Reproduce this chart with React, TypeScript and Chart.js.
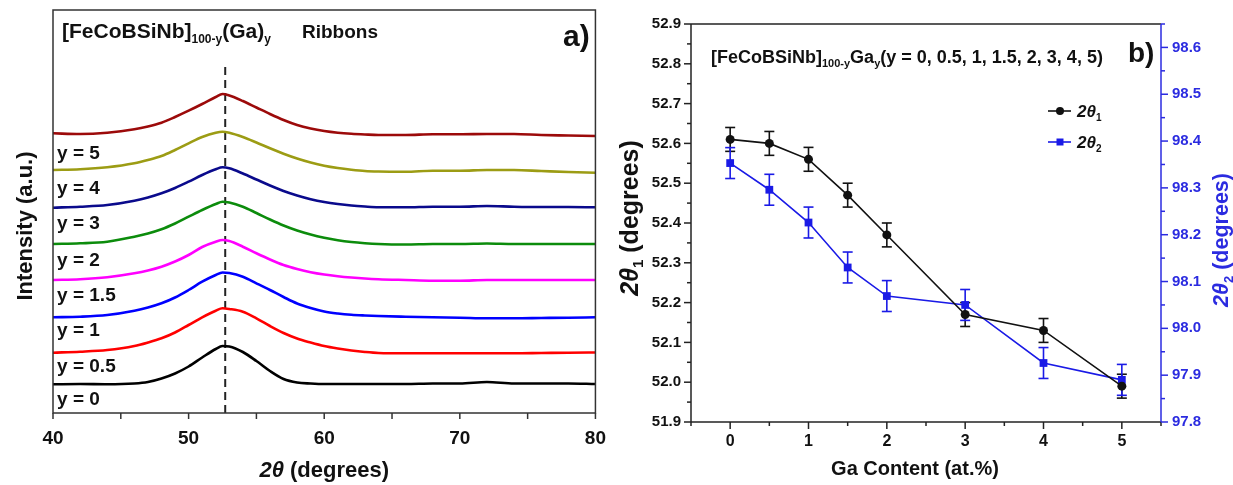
import React, { useEffect, useRef } from 'react';
import { Chart, registerables } from 'chart.js';
Chart.register(...registerables);

const FAM = "'Liberation Sans', Arial, Helvetica, sans-serif";

// ---------- Panel a) XRD patterns ----------
const twoTheta = [40, 42, 44, 46, 47, 48, 49, 50, 51, 52, 52.5, 53, 54, 55, 56, 57, 58, 59, 60, 61, 62, 63, 64, 66, 68, 70, 72, 74, 76, 78, 80];
const intY0 = [28.7, 29, 28.7, 29.5, 31, 34.5, 39.5, 46.5, 55.5, 64, 67, 66.5, 61, 52, 42, 34, 30.5, 29.5, 29, 29, 29, 29, 29, 29, 29.5, 29.5, 31, 29.5, 29.5, 29.5, 29];
const intY05 = [60.3, 61.3, 63, 67, 70.5, 74.7, 80.5, 88, 95.7, 102.3, 104.7, 104, 101.3, 94.7, 87, 80, 74.5, 70.5, 67, 64.5, 62.5, 61, 60, 59.7, 59.7, 59.7, 59.7, 59.7, 60, 60.3, 60.5];
const intY1 = [95.7, 96.3, 98, 102.3, 105.5, 109.7, 115.5, 123, 131.3, 138, 140.5, 140, 136.3, 129.7, 123, 116, 109.5, 105, 101.5, 99.5, 98.2, 97.5, 97, 96.3, 95.7, 95.3, 94.7, 94.7, 95, 95.3, 95.7];
const intY15 = [133, 133.7, 135.7, 139.7, 142.5, 146.3, 151.5, 158, 166, 171.3, 173, 172, 166.3, 159.7, 153.5, 148, 144, 140.8, 138.5, 136.8, 135.5, 134.5, 133.8, 133, 132.3, 132.3, 133, 133, 133, 133, 133];
const intY2 = [169, 169.7, 171.3, 176.3, 179.5, 183.7, 189.5, 196.3, 203, 209, 211.3, 210.5, 206.3, 200, 193.5, 187.5, 182.5, 178.5, 175.3, 172.8, 171, 169.8, 169, 168.5, 169, 169, 169.5, 169, 169, 169, 169];
const intY3 = [205.3, 206.3, 208, 212.3, 215.5, 219.7, 225, 231.3, 238, 243.7, 245.7, 244.7, 239.5, 233.5, 227.5, 222, 217.5, 213.8, 211, 209, 207.5, 206.5, 205.8, 205.7, 206.3, 206.3, 207, 206.3, 206, 206, 205.7];
const intY4 = [243, 243.7, 245.7, 249.7, 253, 257, 263, 269.7, 276, 280.3, 281.3, 280.3, 276, 270.5, 264.7, 259.3, 254.5, 250.5, 247.3, 245, 243.3, 242, 241.5, 241.3, 242.3, 242.3, 243, 243, 242, 241, 240.3];
const intY5 = [279.7, 279, 280.3, 283.7, 286.5, 290.3, 296, 302.3, 309, 316, 319, 317.5, 312, 305.5, 299, 293, 288, 284.5, 282, 280.3, 279.2, 278.5, 278, 278, 278.7, 278.7, 279, 279, 278, 277.5, 277];
const curves = [intY0, intY05, intY1, intY15, intY2, intY3, intY4, intY5];
const curveColors = ['#000000', '#ff0000', '#0000ff', '#ff00ff', '#0c8c0c', '#0a0a8c', '#9c9c14', '#9c0a0a'];
const compLabels = ['y = 0', 'y = 0.5', 'y = 1', 'y = 1.5', 'y = 2', 'y = 3', 'y = 4', 'y = 5'];
const compLabelLevels = [8, 41, 77, 112, 147, 184, 219, 254];
const refPeak = 52.7;
const refLineTop = 346;
const xTicksA = [40, 50, 60, 70, 80];

// ---------- Panel b) peak positions ----------
const gaContent = [0, 0.5, 1, 1.5, 2, 3, 4, 5];
const theta1 = [52.61, 52.60, 52.56, 52.47, 52.37, 52.17, 52.13, 51.99];
const theta1Err = [0.03, 0.03, 0.03, 0.03, 0.03, 0.03, 0.03, 0.03];
const theta2 = [98.353, 98.296, 98.226, 98.13, 98.069, 98.05, 97.926, 97.89];
const theta2Err = [0.033, 0.033, 0.033, 0.033, 0.033, 0.033, 0.033, 0.033];
const xTicksB = [0, 1, 2, 3, 4, 5];
const yTicksB1 = [51.9, 52.0, 52.1, 52.2, 52.3, 52.4, 52.5, 52.6, 52.7, 52.8, 52.9];
const yTicksB2 = [97.8, 97.9, 98.0, 98.1, 98.2, 98.3, 98.4, 98.5, 98.6];

const BLUE = '#1a1ae6';
const AXBLUE = '#2b2be0';

type Seg = { t: string; s: number; it?: boolean; dy?: number; nb?: boolean };
const fontOf = (sg: Seg) => `${sg.it ? 'italic ' : ''}${sg.nb ? '' : 'bold '}${sg.s}px ${FAM}`;

function drawRich(ctx: CanvasRenderingContext2D, segs: Seg[], x: number, y: number, align: string, color: string, rot = 0) {
  ctx.save();
  ctx.translate(x, y);
  if (rot) ctx.rotate(rot);
  ctx.fillStyle = color;
  ctx.textAlign = 'left';
  ctx.textBaseline = 'alphabetic';
  let w = 0;
  const ws = segs.map((sg) => {
    ctx.font = fontOf(sg);
    const m = ctx.measureText(sg.t).width;
    w += m;
    return m;
  });
  let cx = align === 'center' ? -w / 2 : align === 'right' ? -w : 0;
  segs.forEach((sg, i) => {
    ctx.font = fontOf(sg);
    ctx.fillText(sg.t, cx, sg.dy || 0);
    cx += ws[i];
  });
  ctx.restore();
}

function line(ctx: CanvasRenderingContext2D, x1: number, y1: number, x2: number, y2: number) {
  ctx.beginPath();
  ctx.moveTo(x1, y1);
  ctx.lineTo(x2, y2);
  ctx.stroke();
}

const leftPlugin = {
  id: 'leftDeco',
  afterDraw(chart: any) {
    const ctx: CanvasRenderingContext2D = chart.ctx;
    const { left, right, top, bottom } = chart.chartArea;
    const xs = chart.scales.x;
    const ys = chart.scales.y;
    ctx.save();
    ctx.strokeStyle = '#333';
    ctx.lineWidth = 1.5;
    ctx.strokeRect(left, top, right - left, bottom - top);
    for (let v = 40; v <= 80; v += 5) {
      const px = xs.getPixelForValue(v);
      line(ctx, px, bottom, px, bottom + 6);
    }
    compLabels.forEach((t, i) => {
      drawRich(ctx, [{ t, s: 19 }], xs.getPixelForValue(40.3), ys.getPixelForValue(compLabelLevels[i]), 'left', '#111');
    });
    drawRich(ctx, [
      { t: '[FeCoBSiNb]', s: 21 },
      { t: '100-y', s: 12, dy: 5 },
      { t: '(Ga)', s: 21 },
      { t: 'y', s: 12, dy: 5 },
    ], 62, 38, 'left', '#111');
    drawRich(ctx, [{ t: 'Ribbons', s: 19 }], 302, 38, 'left', '#111');
    drawRich(ctx, [{ t: 'a)', s: 30 }], 563, 46, 'left', '#111');
    drawRich(ctx, [{ t: '2θ', s: 22, it: true }, { t: ' (degrees)', s: 22 }], (left + right) / 2, 477, 'center', '#111');
    drawRich(ctx, [{ t: 'Intensity (a.u.)', s: 22 }], 24 + 0.36 * 22, 226, 'center', '#111', -Math.PI / 2);
    ctx.restore();
  },
};

const rightPlugin = {
  id: 'rightDeco',
  beforeDatasetsDraw(chart: any) {
    const ctx: CanvasRenderingContext2D = chart.ctx;
    const xs = chart.scales.x;
    const sets = [
      { ys: chart.scales.y, vals: theta1, errs: theta1Err, color: '#111' },
      { ys: chart.scales.y2, vals: theta2, errs: theta2Err, color: BLUE },
    ];
    ctx.save();
    ctx.lineWidth = 1.6;
    sets.forEach((s) => {
      ctx.strokeStyle = s.color;
      gaContent.forEach((g, j) => {
        const px = xs.getPixelForValue(g);
        const yt = s.ys.getPixelForValue(s.vals[j] + s.errs[j]);
        const yb = s.ys.getPixelForValue(s.vals[j] - s.errs[j]);
        line(ctx, px, yt, px, yb);
        line(ctx, px - 5, yt, px + 5, yt);
        line(ctx, px - 5, yb, px + 5, yb);
      });
    });
    ctx.restore();
  },
  afterDraw(chart: any) {
    const ctx: CanvasRenderingContext2D = chart.ctx;
    const { left, right, top, bottom } = chart.chartArea;
    const xs = chart.scales.x;
    const yl = chart.scales.y;
    const yr = chart.scales.y2;
    ctx.save();
    ctx.lineWidth = 1.5;
    ctx.strokeStyle = '#222';
    for (let i = 0; i <= 12; i++) {
      const v = -0.5 + i * 0.5;
      const px = xs.getPixelForValue(v);
      const major = Math.abs(v - Math.round(v)) < 1e-6;
      line(ctx, px, bottom, px, bottom + (major ? 7 : 4));
    }
    for (let i = 0; i <= 20; i++) {
      const py = yl.getPixelForValue(51.9 + i * 0.05);
      line(ctx, left, py, left - (i % 2 === 0 ? 7 : 4), py);
    }
    line(ctx, left, top, left, bottom);
    line(ctx, left, bottom, right, bottom);
    line(ctx, left, top, right, top);
    ctx.strokeStyle = AXBLUE;
    for (let i = 0; i <= 17; i++) {
      const py = yr.getPixelForValue(97.8 + i * 0.05);
      line(ctx, right, py, right + (i % 2 === 0 ? 7 : 4), py);
    }
    line(ctx, right, top, right, bottom);

    drawRich(ctx, [
      { t: '[FeCoBSiNb]', s: 18 },
      { t: '100-y', s: 11, dy: 4 },
      { t: 'Ga', s: 18 },
      { t: 'y', s: 11, dy: 4 },
      { t: '(y = 0, 0.5, 1, 1.5, 2, 3, 4, 5)', s: 18 },
    ], 111, 63, 'left', '#111');
    drawRich(ctx, [{ t: 'b)', s: 28 }], 528, 62, 'left', '#111');

    // legend
    const rows = [
      { y: 111, color: '#111', sub: '1', shape: 'circle' },
      { y: 142, color: BLUE, sub: '2', shape: 'rect' },
    ];
    rows.forEach((r) => {
      ctx.strokeStyle = r.color;
      ctx.fillStyle = r.color;
      ctx.lineWidth = 1.6;
      line(ctx, 448, r.y, 471, r.y);
      ctx.beginPath();
      if (r.shape === 'circle') ctx.arc(460, r.y, 4, 0, Math.PI * 2);
      else ctx.rect(456.5, r.y - 3.5, 7, 7);
      ctx.fill();
      drawRich(ctx, [{ t: '2θ', s: 17, it: true }, { t: r.sub, s: 10, dy: 4 }], 477, r.y + 6, 'left', '#111');
    });

    drawRich(ctx, [{ t: 'Ga Content (at.%)', s: 20 }], 315, 475, 'center', '#111');
    drawRich(ctx, [{ t: '2θ', s: 25, it: true }, { t: '1', s: 15, dy: 5 }, { t: ' (degrees)', s: 25 }], 29 + 0.36 * 25, 218, 'center', '#111', -Math.PI / 2);
    drawRich(ctx, [{ t: '2θ', s: 21.5, it: true }, { t: '2', s: 13, dy: 5 }, { t: ' (degrees)', s: 21.5 }], 620 + 0.36 * 21.5, 240, 'center', AXBLUE, -Math.PI / 2);
    ctx.restore();
  },
};

export default function App() {
  const leftRef = useRef<HTMLCanvasElement>(null);
  const rightRef = useRef<HTMLCanvasElement>(null);

  useEffect(() => {
    Chart.defaults.font.family = FAM;
    const leftSets: any[] = curves.map((c, i) => ({
      data: twoTheta.map((x, j) => ({ x, y: c[j] })),
      borderColor: curveColors[i],
      borderWidth: 2.6,
      pointRadius: 0,
      cubicInterpolationMode: 'monotone',
      fill: false,
    }));
    leftSets.push({
      data: [{ x: refPeak, y: 0 }, { x: refPeak, y: refLineTop }],
      borderColor: '#222',
      borderWidth: 2,
      borderDash: [8, 5],
      pointRadius: 0,
      fill: false,
    });
    const left = new Chart(leftRef.current as HTMLCanvasElement, {
      type: 'line',
      data: { datasets: leftSets },
      options: {
        animation: false,
        responsive: false,
        devicePixelRatio: 1,
        layout: { padding: { left: 0, right: 21, top: 10, bottom: 0 } },
        plugins: { legend: { display: false }, tooltip: { enabled: false } },
        scales: {
          x: {
            type: 'linear', min: 40, max: 80,
            grid: { display: false, drawTicks: false }, border: { display: false },
            afterBuildTicks: (s: any) => { s.ticks = xTicksA.map((v) => ({ value: v })); },
            ticks: { padding: 14, color: '#111', font: { size: 19, weight: 'bold', family: FAM } },
            afterFit: (s: any) => { s.height = 72; },
          },
          y: {
            type: 'linear', min: 0, max: 403,
            grid: { display: false, drawTicks: false }, border: { display: false },
            ticks: { display: false },
            afterFit: (s: any) => { s.width = 53; },
          },
        },
      } as any,
      plugins: [leftPlugin],
    });

    const right = new Chart(rightRef.current as HTMLCanvasElement, {
      type: 'line',
      data: {
        datasets: [
          {
            data: gaContent.map((x, j) => ({ x, y: theta1[j] })),
            yAxisID: 'y', borderColor: '#111', backgroundColor: '#111', borderWidth: 1.6,
            pointStyle: 'circle', pointRadius: 4.5, pointBorderWidth: 0, tension: 0,
          },
          {
            data: gaContent.map((x, j) => ({ x, y: theta2[j] })),
            yAxisID: 'y2', borderColor: BLUE, backgroundColor: BLUE, borderWidth: 1.6,
            pointStyle: 'rect', pointRadius: 5.5, pointBorderWidth: 0, tension: 0,
          },
        ],
      },
      options: {
        animation: false,
        responsive: false,
        devicePixelRatio: 1,
        layout: { padding: { left: 0, right: 0, top: 24, bottom: 0 } },
        plugins: { legend: { display: false }, tooltip: { enabled: false } },
        scales: {
          x: {
            type: 'linear', min: -0.5, max: 5.5,
            grid: { display: false, drawTicks: false }, border: { display: false },
            afterBuildTicks: (s: any) => { s.ticks = xTicksB.map((v) => ({ value: v })); },
            ticks: {
              padding: 10, color: '#111',
              font: { size: 16, weight: 'bold', family: FAM },
              callback: (v: any) => String(v),
            },
            afterFit: (s: any) => { s.height = 63; },
          },
          y: {
            type: 'linear', position: 'left', min: 51.9, max: 52.9,
            grid: { display: false, drawTicks: false }, border: { display: false },
            afterBuildTicks: (s: any) => { s.ticks = yTicksB1.map((v) => ({ value: v })); },
            ticks: {
              padding: 10, color: '#111',
              font: { size: 15, weight: 'bold', family: FAM },
              callback: (v: any) => Number(v).toFixed(1),
            },
            afterFit: (s: any) => { s.width = 91; },
          },
          y2: {
            type: 'linear', position: 'right', min: 97.8, max: 98.65,
            grid: { display: false, drawTicks: false }, border: { display: false },
            afterBuildTicks: (s: any) => { s.ticks = yTicksB2.map((v) => ({ value: v })); },
            ticks: {
              padding: 11, color: AXBLUE,
              font: { size: 15, weight: 'bold', family: FAM },
              callback: (v: any) => Number(v).toFixed(1),
            },
            afterFit: (s: any) => { s.width = 72; },
          },
        },
      } as any,
      plugins: [rightPlugin],
    });

    return () => {
      left.destroy();
      right.destroy();
    };
  }, []);

  return (
    <div style={{ position: 'fixed', left: 0, top: 0, width: 1233, height: 485, background: '#fff', overflow: 'hidden' }}>
      <canvas ref={leftRef} width={620} height={485} style={{ position: 'absolute', left: 0, top: 0 }} />
      <canvas ref={rightRef} width={633} height={485} style={{ position: 'absolute', left: 600, top: 0 }} />
    </div>
  );
}
